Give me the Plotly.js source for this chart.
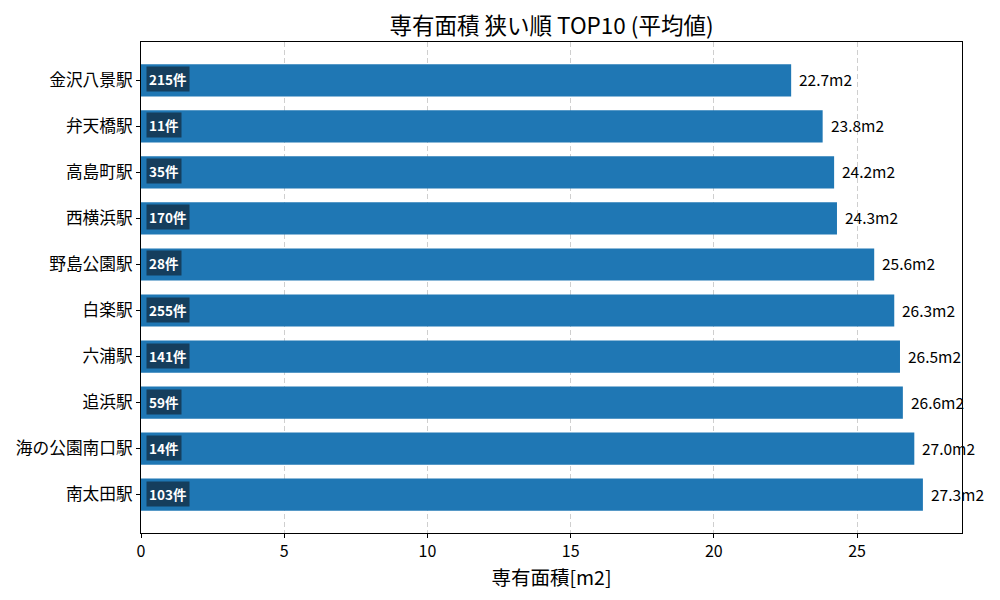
<!DOCTYPE html>
<html>
<head>
<meta charset="utf-8">
<script src="https://cdn.plot.ly/plotly-3.0.1.min.js"></script>
<style>
  html, body { margin: 0; padding: 0; background: #fff; }
  #chart { width: 1000px; height: 600px; }
</style>
</head>
<body>
<div id="chart"></div>
<script>
// bottom -> top, as drawn
const stations = ['南太田駅', '海の公園南口駅', '追浜駅', '六浦駅', '白楽駅',
  '野島公園駅', '西横浜駅', '高島町駅', '弁天橋駅', '金沢八景駅'];
const areas = [27.3, 27.0, 26.6, 26.5, 26.3, 25.6, 24.3, 24.2, 23.8, 22.7];
const counts = [103, 14, 59, 141, 255, 28, 170, 35, 11, 215];
const xTicks = [0, 5, 10, 15, 20, 25];

const FONT = 'Noto Sans CJK JP, Noto Sans, sans-serif';
const positions = stations.map((s, i) => i);

const trace = {
  type: 'bar',
  orientation: 'h',
  x: areas,
  y: positions,
  width: 0.7,
  marker: { color: '#1f77b4' },
  hoverinfo: 'skip',
};

const annotations = [];
positions.forEach((p, i) => {
  // value at the end of the bar
  annotations.push({
    x: areas[i], y: p, xref: 'x', yref: 'y',
    text: areas[i].toFixed(1) + 'm2',
    showarrow: false, xanchor: 'left', yanchor: 'middle', xshift: 6, yshift: 1,
    font: { family: FONT, size: 15.5, color: '#000' },
  });
  // count badge inside the bar
  annotations.push({
    x: 0, y: p, xref: 'x', yref: 'y',
    text: '<b>' + counts[i] + '件</b>',
    showarrow: false, xanchor: 'left', yanchor: 'middle', xshift: 5, yshift: 1,
    bgcolor: '#153e5d', borderpad: 2,
    font: { family: FONT, size: 13.5, color: '#fff' },
  });
});

const layout = {
  width: 1000,
  height: 600,
  margin: { l: 141, r: 38, t: 42, b: 67 },
  paper_bgcolor: '#fff',
  plot_bgcolor: '#fff',
  showlegend: false,
  font: { family: FONT, size: 16, color: '#000' },
  title: {
    text: '専有面積 狭い順 TOP10 (平均値)',
    font: { family: FONT, size: 22.5, color: '#000' },
    x: 0.5515, xanchor: 'center', y: 0.957, yanchor: 'middle',
  },
  xaxis: {
    range: [0, 28.665],
    tickvals: xTicks,
    ticktext: xTicks.map(String),
    ticks: 'outside', ticklen: 4, tickcolor: '#000',
    showgrid: true, gridcolor: '#cfcfcf', griddash: '5px,3px', gridwidth: 1,
    zeroline: false,
    showline: true, linecolor: '#000', linewidth: 1, mirror: true,
    tickfont: { family: FONT, size: 16, color: '#000' },
    title: { text: '専有面積[m2]', font: { family: FONT, size: 19.5, color: '#000' }, standoff: 8 },
  },
  yaxis: {
    range: [-0.835, 9.835],
    tickvals: positions,
    ticktext: stations,
    ticks: 'outside', ticklen: 4, tickcolor: '#000',
    showgrid: false, zeroline: false,
    showline: true, linecolor: '#000', linewidth: 1, mirror: true,
    tickfont: { family: FONT, size: 16.7, color: '#000' },
  },
  annotations,
};

Plotly.newPlot('chart', [trace], layout, { displayModeBar: false, staticPlot: true });
</script>
</body>
</html>
